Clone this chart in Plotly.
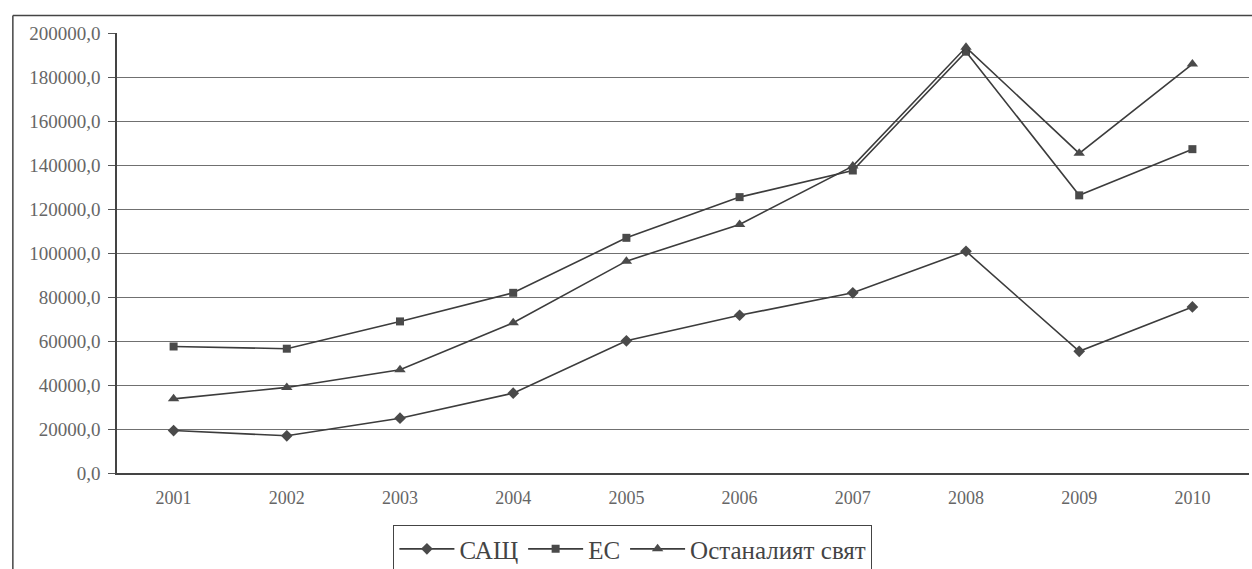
import plotly.graph_objects as go

years = ["2001", "2002", "2003", "2004", "2005", "2006", "2007", "2008", "2009", "2010"]
usa = [19300, 16900, 24900, 36300, 60100, 71700, 81900, 100800, 55300, 75500]
eu = [57500, 56500, 68900, 81900, 106900, 125400, 137500, 191500, 126200, 147200]
rest = [33700, 38900, 46900, 68300, 96300, 113000, 139500, 193500, 145300, 185900]
names = ["САЩ", "ЕС", "Останалият свят"]
symbols = ["diamond", "square", "triangle-up"]

line_col = "#3c3c3c"
fig = go.Figure()
for name, vals, sym, sz in zip(names, [usa, eu, rest], symbols, [9, 8, 10]):
    fig.add_trace(go.Scatter(
        x=years, y=vals, name=name, mode="lines+markers",
        line=dict(color=line_col, width=1.6),
        marker=dict(symbol=sym, size=sz, color="#4a4a4a"),
    ))

fig.update_layout(
    width=1252, height=569,
    margin=dict(l=117, r=3, t=33, b=96, autoexpand=False),
    paper_bgcolor="white", plot_bgcolor="white",
    separators=",.",
    font=dict(family="Liberation Serif, Times New Roman, serif", color="#555"),
    showlegend=True,
    legend=dict(
        orientation="h", x=0.244, y=-0.118, xanchor="left", yanchor="top",
        bordercolor="#444", borderwidth=1.2, bgcolor="white",
        font=dict(size=25, color="#444", family="Liberation Serif, serif"),
        itemwidth=55, tracegroupgap=0,
    ),
    xaxis=dict(
        type="category", range=[-0.5, 9.5], automargin=False,
        showgrid=False, showline=True, linecolor="#444", linewidth=1.5,
        ticks="", tickfont=dict(size=18, color="#666"), ticklabelstandoff=8,
    ),
    yaxis=dict(
        range=[0, 200000], dtick=20000, tickformat=".1f", automargin=False,
        showgrid=True, gridcolor="#707070", gridwidth=1.2,
        showline=True, linecolor="#444", linewidth=1.5,
        ticks="outside", ticklen=7, tickcolor="#555",
        tickfont=dict(size=19, color="#666"), zeroline=False,
        ticklabelstandoff=4,
    ),
    shapes=[
        dict(type="line", xref="paper", yref="paper", x0=-0.092, x1=1.01, y0=1.04, y1=1.04,
             line=dict(color="#444", width=1.5)),
        dict(type="line", xref="paper", yref="paper", x0=-0.092, x1=-0.092, y0=1.04, y1=-0.25,
             line=dict(color="#444", width=1.5)),
    ],
)

fig.write_html("out.html")
